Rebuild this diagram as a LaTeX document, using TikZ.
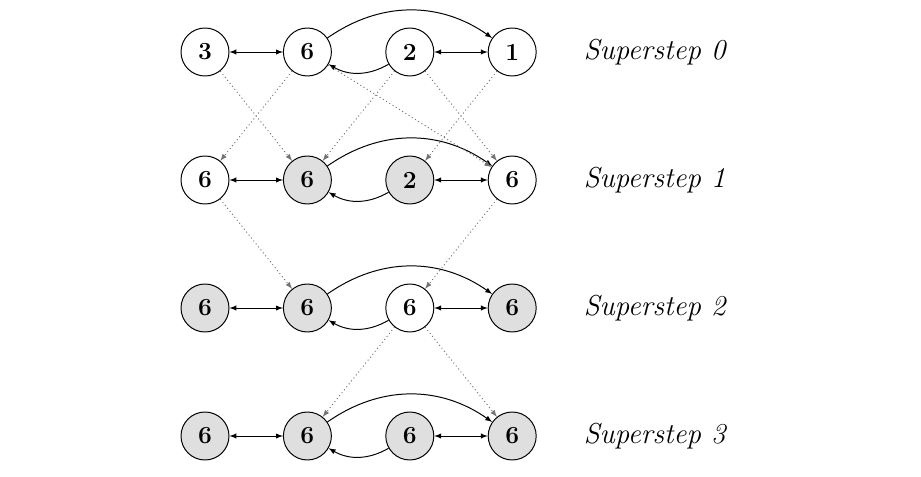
\documentclass[tikz,border=0pt]{standalone}
\usetikzlibrary{arrows, positioning}
\tikzstyle{vertex} = [circle, minimum size=1.2cm, inner sep=0pt, draw=black, line width=0.7pt, font=\fontsize{17.5}{20}\selectfont\bfseries]
\tikzstyle{active} = [vertex, fill=gray!25]
\tikzstyle{superstep} = [font=\fontsize{20.5}{24}\selectfont\itshape]
\tikzstyle{msg} = [->, dotted, black!55, line width=0.7pt]

\begin{document}
\begin{tikzpicture}[node distance=2.56cm, >=latex, line width=0.7pt]
    \useasboundingbox (-5.125,-10.625) rectangle (17.9,1.3);

    % superstep 0
    \node[vertex] (a0) at (0,0) {3};
    \node[vertex, right of=a0] (b0) {6};
    \node[vertex, right of=b0] (c0) {2};
    \node[vertex, right of=c0] (d0) {1};

    % superstep 1
    \node[vertex, below of=a0, node distance=3.2cm] (a1) {6};
    \node[active, right of=a1] (b1) {6};
    \node[active, right of=b1] (c1) {2};
    \node[vertex, right of=c1] (d1) {6};

    % superstep 2
    \node[active, below of=a1, node distance=3.2cm] (a2) {6};
    \node[active, right of=a2] (b2) {6};
    \node[vertex, right of=b2] (c2) {6};
    \node[active, right of=c2] (d2) {6};

    % superstep 3
    \node[active, below of=a2, node distance=3.2cm] (a3) {6};
    \node[active, right of=a3] (b3) {6};
    \node[active, right of=b3] (c3) {6};
    \node[active, right of=c3] (d3) {6};

    \foreach \r in {0,...,3} {
        \node[superstep, right=1.05cm of d\r] (s\r) {Superstep \r};
        \draw [<->] (a\r) -- (b\r);
        \draw [->] (b\r) to[bend left=35] (d\r);
        \draw [->] (c\r) to[bend left=30] (b\r);
        \draw [<->] (c\r) -- (d\r);
    }

    % messages
    \draw [msg] (a0) -- (b1);
    \draw [msg] (b0) -- (a1);
    \draw [msg] (b0) -- (d1);
    \draw [msg] (c0) -- (b1);
    \draw [msg] (c0) -- (d1);
    \draw [msg] (d0) -- (c1);
    \draw [msg] (a1) -- (b2);
    \draw [msg] (d1) -- (c2);
    \draw [msg] (c2) -- (b3);
    \draw [msg] (c2) -- (d3);

\end{tikzpicture}
\end{document}
